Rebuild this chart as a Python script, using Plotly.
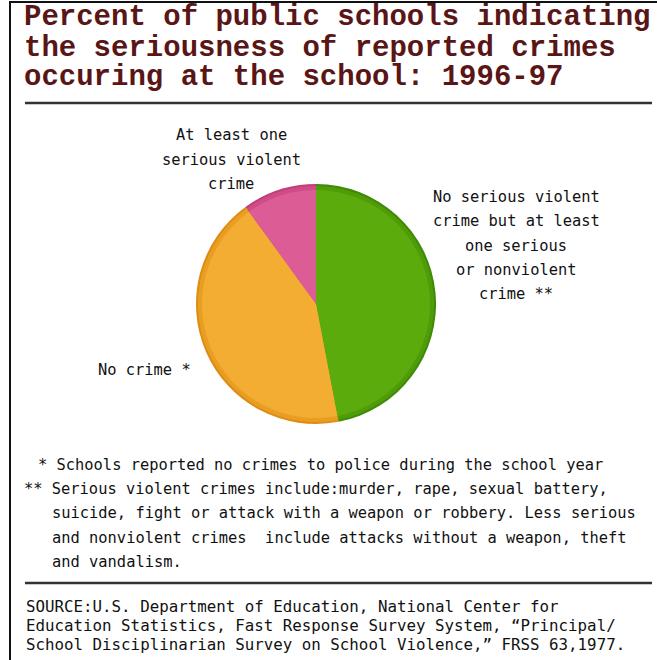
import plotly.graph_objects as go

W, H = 657, 660

# Survey shares (percent of public schools), 1996-97
categories = [
    "No serious violent crime but at least one serious or nonviolent crime",
    "No crime",
    "At least one serious violent crime",
]
values = [47, 43, 10]

title_lines = [
    "Percent of public schools indicating",
    "the seriousness of reported crimes",
    "occuring at the school: 1996-97",
]

label_violent = ["At least one", "serious violent", "crime"]
label_nonviolent = ["No serious violent", "crime but at least", "one serious", "or nonviolent", "crime **"]
label_none = ["No crime *"]

footnotes = [
    ("* Schools reported no crimes to police during the school year", 36),
    ("** Serious violent crimes include:murder, rape, sexual battery,", 22),
    ("suicide, fight or attack with a weapon or robbery. Less serious", 50),
    ("and nonviolent crimes  include attacks without a weapon, theft", 50),
    ("and vandalism.", 50),
]
source_lines = [
    "SOURCE:U.S. Department of Education, National Center for",
    "Education Statistics, Fast Response Survey System, \u201cPrincipal/",
    "School Disciplinarian Survey on School Violence,\u201d FRSS 63,1977.",
]

rim_colors = ["#3f8a06", "#dd8c14", "#c23e78"]
mid_colors = ["#4f9c08", "#e99e22", "#d04c86"]
base_colors = ["#5cab0c", "#f2ad32", "#dc5c96"]

CX, CY = 316, 304


def px(x):
    return x / W


def py(y):
    return 1 - y / H


def pie_layer(radius, colors):
    return go.Pie(
        labels=categories,
        values=values,
        sort=False,
        direction="clockwise",
        rotation=0,
        textinfo="none",
        hoverinfo="label+percent",
        showlegend=False,
        marker=dict(colors=colors, line=dict(width=0)),
        domain=dict(
            x=[px(CX - radius), px(CX + radius)],
            y=[py(CY + radius), py(CY - radius)],
        ),
    )


fig = go.Figure()
fig.add_trace(pie_layer(120, rim_colors))
fig.add_trace(pie_layer(118, mid_colors))
fig.add_trace(pie_layer(114, base_colors))

annotations = []
label_font = dict(family="DejaVu Sans Mono", size=15.4, color="#111111")
source_font = dict(family="DejaVu Sans Mono", size=15.8, color="#111111")

for i, line in enumerate(title_lines):
    annotations.append(dict(
        text=line, x=px(22), y=py(18 + 30 * i), xref="paper", yref="paper",
        xanchor="left", yanchor="middle", showarrow=False,
        font=dict(family="Liberation Mono", size=29, color="#5a1616", weight="bold"),
    ))

for i, line in enumerate(label_violent):
    annotations.append(dict(
        text=line, x=px(231), y=py(135 + 24.5 * i), xref="paper", yref="paper",
        xanchor="center", yanchor="middle", showarrow=False, font=label_font,
    ))

for i, line in enumerate(label_nonviolent):
    annotations.append(dict(
        text=line, x=px(516), y=py(197 + 24.3 * i), xref="paper", yref="paper",
        xanchor="center", yanchor="middle", showarrow=False, font=label_font,
    ))

for line in label_none:
    annotations.append(dict(
        text=line, x=px(144), y=py(370), xref="paper", yref="paper",
        xanchor="center", yanchor="middle", showarrow=False, font=label_font,
    ))

for i, (line, x0) in enumerate(footnotes):
    annotations.append(dict(
        text=line, x=px(x0), y=py(465 + 24.2 * i), xref="paper", yref="paper",
        xanchor="left", yanchor="middle", showarrow=False, font=label_font,
    ))

for i, line in enumerate(source_lines):
    annotations.append(dict(
        text=line, x=px(24), y=py(606 + 19.2 * i), xref="paper", yref="paper",
        xanchor="left", yanchor="middle", showarrow=False, font=source_font,
    ))

shapes = [
    # frame: top and left edges
    dict(type="line", xref="paper", yref="paper", x0=px(10), x1=1, y0=py(2), y1=py(2),
         line=dict(color="#111111", width=2)),
    dict(type="line", xref="paper", yref="paper", x0=px(10), x1=px(10), y0=0, y1=py(1),
         line=dict(color="#111111", width=2)),
    # rule under the title
    dict(type="line", xref="paper", yref="paper", x0=px(25), x1=px(652), y0=py(103), y1=py(103),
         line=dict(color="#333333", width=2.5)),
    # rule above the source
    dict(type="line", xref="paper", yref="paper", x0=px(25), x1=px(652), y0=py(583), y1=py(583),
         line=dict(color="#333333", width=2.5)),
]

fig.update_layout(
    width=W, height=H,
    margin=dict(l=0, r=0, t=0, b=0),
    paper_bgcolor="white", plot_bgcolor="white",
    annotations=annotations,
    shapes=shapes,
)

fig.write_html("out.html")
